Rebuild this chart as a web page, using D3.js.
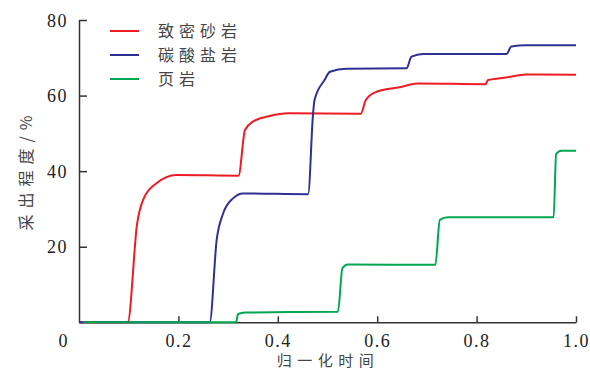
<!DOCTYPE html>
<html>
<head>
<meta charset="utf-8">
<script src="https://cdn.jsdelivr.net/npm/d3@7"></script>
<style>
  body { margin: 0; background: #fff; }
  .axis path, .axis line { stroke: #333; stroke-width: 1.5; }
  .axis text { font-family: "Liberation Serif", serif; font-size: 18px; fill: #222; letter-spacing: 1.5px; }
  .cn { font-family: "Noto Sans CJK SC", sans-serif; font-size: 16px; fill: #444; }
</style>
</head>
<body>
<div class="chart"></div>
<script>
// series names and colors
const seriesNames = ["致密砂岩", "碳酸盐岩", "页岩"];
const seriesColors = ["#ed1c24", "#2e3192", "#00a650"];

// 致密砂岩
const tightT = [0, 0.098, 0.117, 0.129, 0.156, 0.196, 0.321, 0.334, 0.35, 0.384, 0.421, 0.567, 0.577, 0.595, 0.645, 0.682, 0.818, 0.823, 0.86, 0.9, 1.0];
const tightV = [0, 0, 26.2, 32.4, 36.8, 39.0, 38.8, 50.9, 53.1, 54.6, 55.3, 55.2, 58.8, 60.8, 62.2, 63.2, 63.0, 64.1, 64.8, 65.6, 65.5];
// 碳酸盐岩
const carbT = [0, 0.263, 0.277, 0.29, 0.31, 0.33, 0.461, 0.471, 0.474, 0.494, 0.505, 0.538, 0.659, 0.669, 0.692, 0.86, 0.87, 0.9, 1.0];
const carbV = [0, 0, 21.8, 28.8, 32.8, 34.1, 33.9, 55.3, 58.9, 64.1, 66.3, 67.1, 67.2, 70.3, 71.0, 71.0, 73.0, 73.3, 73.3];
// 页岩
const shaleT = [0.008, 0.316, 0.32, 0.334, 0.521, 0.53, 0.541, 0.717, 0.726, 0.742, 0.955, 0.96, 0.97, 1.0];
const shaleV = [0, 0, 2.2, 2.6, 2.8, 14.3, 15.3, 15.2, 27.1, 27.8, 27.8, 44.5, 45.4, 45.4];

const xTicks = [0.2, 0.4, 0.6, 0.8, 1.0];
const yTicks = [20, 40, 60, 80];

const width = 590, height = 369;

const svg = d3.select('.chart').append('svg')
    .attr('width', width)
    .attr('height', height);

const xScale = d3.scaleLinear().domain([0, 1]).range([79, 576]);
const yScale = d3.scaleLinear().domain([0, 80]).range([322.3, 20]);

const xAxis = d3.axisBottom(xScale)
    .tickValues(xTicks)
    .tickFormat(d3.format(".1f"))
    .tickSizeInner(-6)
    .tickSizeOuter(0)
    .tickPadding(12);

const yAxis = d3.axisLeft(yScale)
    .tickValues(yTicks)
    .tickSizeInner(-8)
    .tickSizeOuter(0)
    .tickPadding(11);

svg.append('g')
    .attr('class', 'axis x-axis')
    .attr('transform', `translate(0, ${yScale(0)})`)
    .call(xAxis);

svg.append('g')
    .attr('class', 'axis y-axis')
    .attr('transform', `translate(${xScale(0)}, 0)`)
    .call(yAxis)
    .selectAll('text').attr('dy', '0.34em');

// corner zero
svg.append('text')
    .attr('x', 63)
    .attr('y', 347)
    .attr('text-anchor', 'middle')
    .style('font-family', '"Liberation Serif", serif')
    .style('font-size', '18px')
    .style('fill', '#222')
    .text('0');

const line = d3.line()
    .x(d => xScale(d[0]))
    .y(d => yScale(d[1]))
    .curve(d3.curveMonotoneX);

const series = [
    d3.zip(tightT, tightV),
    d3.zip(carbT, carbV),
    d3.zip(shaleT, shaleV)
];

svg.selectAll('.series')
    .data(series)
    .enter()
    .append('path')
    .attr('class', 'series')
    .attr('fill', 'none')
    .attr('stroke', (d, i) => seriesColors[i])
    .attr('stroke-width', 2)
    .attr('d', line);

// legend
const legend = svg.selectAll('.legend')
    .data(seriesNames)
    .enter()
    .append('g')
    .attr('class', 'legend')
    .attr('transform', (d, i) => 'translate(110,' + (31 + i * 24) + ')');

legend.append('line')
    .attr('x1', 0).attr('x2', 29)
    .attr('y1', 0).attr('y2', 0)
    .attr('stroke', (d, i) => seriesColors[i])
    .attr('stroke-width', 2);

legend.append('text')
    .attr('class', 'cn')
    .attr('x', 48)
    .attr('y', 6)
    .style('letter-spacing', '5px')
    .text(d => d);

// axis titles
svg.append('text')
    .attr('class', 'cn')
    .attr('text-anchor', 'middle')
    .attr('transform', 'translate(32,170) rotate(-90)')
    .style('letter-spacing', '6px')
    .text('采出程度/%');

svg.append('text')
    .attr('class', 'cn')
    .attr('text-anchor', 'middle')
    .attr('x', 328)
    .attr('y', 366)
    .style('font-size', '15px')
    .style('letter-spacing', '5.5px')
    .text('归一化时间');
</script>
</body>
</html>
